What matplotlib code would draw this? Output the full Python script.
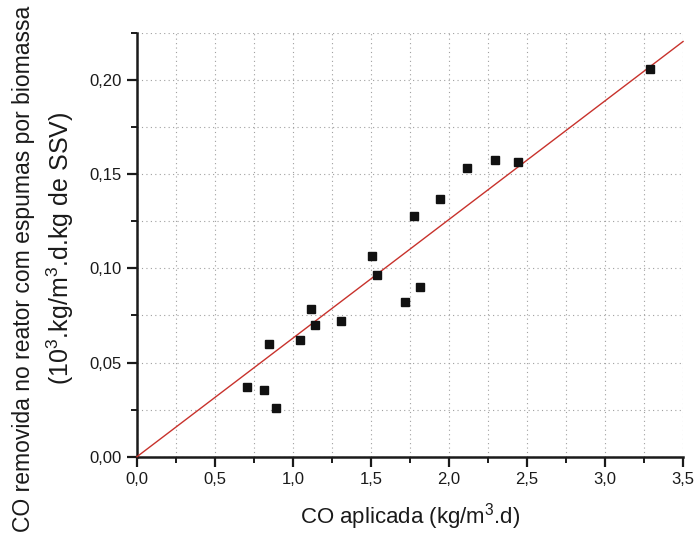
import matplotlib
matplotlib.use("Agg")
import matplotlib.pyplot as plt
import numpy as np
from matplotlib.ticker import MultipleLocator, FuncFormatter

plt.rcParams['font.family'] = ['Liberation Sans', 'DejaVu Sans']
plt.rcParams['mathtext.fontset'] = 'custom'
plt.rcParams['mathtext.rm'] = 'Liberation Sans'
plt.rcParams['mathtext.it'] = 'Liberation Sans:italic'
plt.rcParams['mathtext.bf'] = 'Liberation Sans:bold'

# Applied COD load (kg/m3.d) and COD removed per biomass
co_aplicada = [0.705, 0.811, 0.891, 0.848, 1.047, 1.115, 1.139, 1.310,
               1.503, 1.539, 1.717, 1.811, 1.775, 1.942, 2.117, 2.295,
               2.439, 3.290]
co_removida = [0.0372, 0.0355, 0.0257, 0.0599, 0.0617, 0.0786, 0.0697, 0.0718,
               0.1068, 0.0963, 0.0821, 0.0899, 0.1277, 0.1369, 0.1534, 0.1574,
               0.1566, 0.2057]

# Linear fit through the origin
fit_slope = 0.0630
fit_x = [0.0, 3.5]

fig = plt.figure(figsize=(6.97, 5.37), dpi=100)
ax = fig.add_axes([0.1966, 0.1496, 0.7834, 0.7889])

ax.set_xlim(0, 3.5)
ax.set_ylim(0, 0.225)

ax.xaxis.set_major_locator(MultipleLocator(0.5))
ax.xaxis.set_minor_locator(MultipleLocator(0.25))
ax.yaxis.set_major_locator(MultipleLocator(0.05))
ax.yaxis.set_minor_locator(MultipleLocator(0.025))

ax.xaxis.set_major_formatter(FuncFormatter(lambda v, p: f"{v:.1f}".replace('.', ',')))
ax.yaxis.set_major_formatter(FuncFormatter(lambda v, p: f"{v:.2f}".replace('.', ',')))

ax.grid(True, which='both', color='#a0a0a0', linestyle=(0, (1, 3)), linewidth=0.8)
ax.set_axisbelow(True)

for side in ('top', 'right'):
    ax.spines[side].set_visible(False)
for side in ('left', 'bottom'):
    ax.spines[side].set_linewidth(1.8)
    ax.spines[side].set_color('#1a1a1a')

ax.tick_params(which='major', direction='out', length=7, width=1.6, labelsize=12,
               colors='#1a1a1a', pad=4)
ax.tick_params(which='minor', direction='out', length=4, width=1.4, colors='#1a1a1a')

fit_y = [fit_slope * v for v in fit_x]
ax.plot(fit_x, fit_y, color='#c8322c', linewidth=1.0, clip_on=False, zorder=3)

ax.plot(co_aplicada, co_removida, linestyle='none', marker='s', markersize=6,
        markerfacecolor='#111111', markeredgecolor='#111111', zorder=4)

fig.text(0.5886, 0.039, 'CO aplicada (kg/m$^3$.d)', ha='center', va='center',
         fontsize=16, color='#1a1a1a')
fig.text(0.034, 0.50, 'CO removida no reator com espumas por biomassa',
         rotation=90, ha='center', va='center', fontsize=16.5, color='#1a1a1a')
fig.text(0.087, 0.538, '(10$^3$.kg/m$^3$.d.kg de SSV)',
         rotation=90, ha='center', va='center', fontsize=18, color='#1a1a1a')

fig.savefig('out.png', dpi=100)
